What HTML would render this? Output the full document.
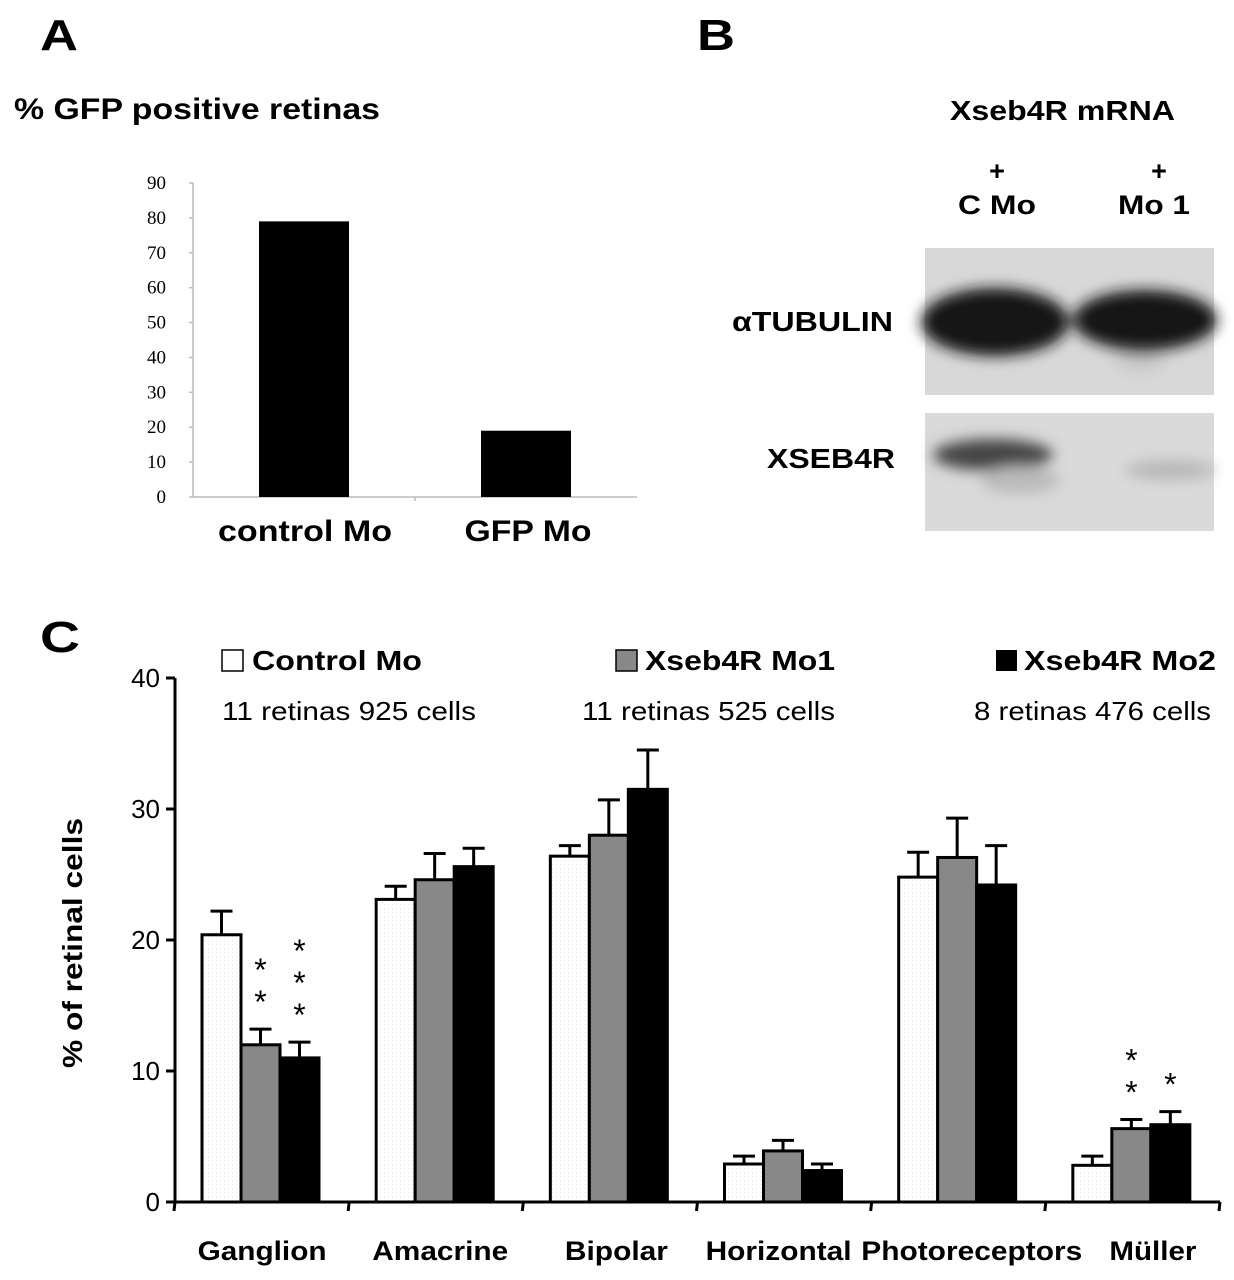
<!DOCTYPE html>
<html><head><meta charset="utf-8"><style>
html,body{margin:0;padding:0;background:#fff;}
svg{display:block;}
text{font-family:"Liberation Sans",sans-serif;}
text.serif{font-family:"Liberation Serif",serif;}
</style></head><body>
<svg id="fig" width="1234" height="1280" viewBox="0 0 1234 1280">
<defs>
<filter id="blur6" x="-20%" y="-50%" width="140%" height="200%"><feGaussianBlur stdDeviation="7"/></filter>
<filter id="blur10" x="-50%" y="-50%" width="200%" height="200%"><feGaussianBlur stdDeviation="10"/></filter>
<pattern id="dots" width="4" height="4" patternUnits="userSpaceOnUse"><rect width="4" height="4" fill="#fff"/><rect width="1" height="1" fill="#e4e4e4"/></pattern>
</defs>
<g id="panelA">
<text x="40" y="50" font-size="44" font-weight="bold" textLength="38" lengthAdjust="spacingAndGlyphs">A</text>
<text x="14" y="119" font-size="30" font-weight="bold" textLength="366" lengthAdjust="spacingAndGlyphs">% GFP positive retinas</text>
</g>
<g id="panelB">
<text x="697" y="50" font-size="44" font-weight="bold" textLength="38" lengthAdjust="spacingAndGlyphs">B</text>
<text x="950" y="120" font-size="28" font-weight="bold" textLength="225" lengthAdjust="spacingAndGlyphs">Xseb4R mRNA</text>
<text x="997" y="180" font-size="27" font-weight="bold" text-anchor="middle">+</text>
<text x="958" y="214" font-size="27" font-weight="bold" textLength="78" lengthAdjust="spacingAndGlyphs">C Mo</text>
<text x="1159" y="180" font-size="27" font-weight="bold" text-anchor="middle">+</text>
<text x="1118" y="214" font-size="27" font-weight="bold" textLength="72" lengthAdjust="spacingAndGlyphs">Mo 1</text>
<text x="732" y="331" font-size="28" font-weight="bold" textLength="161" lengthAdjust="spacingAndGlyphs">αTUBULIN</text>
<text x="767" y="468" font-size="28" font-weight="bold" textLength="128" lengthAdjust="spacingAndGlyphs">XSEB4R</text>
<g>
<rect x="925" y="248" width="289" height="147" fill="#d8d8d8"/>
<g filter="url(#blur10)"><ellipse cx="1140" cy="352" rx="25" ry="14" fill="#b8b8b8"/></g>
<g filter="url(#blur6)"><ellipse cx="995" cy="322" rx="74" ry="34" fill="#151515"/><ellipse cx="1145" cy="320" rx="72" ry="30" fill="#151515"/></g>
</g>
<g>
<rect x="925" y="413" width="289" height="118" fill="#dadada"/>
<g filter="url(#blur6)"><ellipse cx="993" cy="455" rx="60" ry="16" fill="#444"/><ellipse cx="1020" cy="480" rx="40" ry="14" fill="#bbb"/><ellipse cx="1170" cy="470" rx="45" ry="10" fill="#b8b8b8"/></g>
</g>
</g>
<g id="chartA"></g>
<g id="panelC">
<text x="40" y="652" font-size="44" font-weight="bold" textLength="40" lengthAdjust="spacingAndGlyphs">C</text>
<rect x="222" y="650" width="21" height="21" fill="#fff" stroke="#000" stroke-width="1.5"/>
<text x="252" y="670" font-size="28" font-weight="bold" textLength="170" lengthAdjust="spacingAndGlyphs">Control Mo</text>
<text x="222" y="720" font-size="26" textLength="254" lengthAdjust="spacingAndGlyphs">11 retinas 925 cells</text>
<rect x="616" y="650" width="21" height="21" fill="#888" stroke="#000" stroke-width="1.5"/>
<text x="645" y="670" font-size="28" font-weight="bold" textLength="190" lengthAdjust="spacingAndGlyphs">Xseb4R Mo1</text>
<text x="582" y="720" font-size="26" textLength="253" lengthAdjust="spacingAndGlyphs">11 retinas 525 cells</text>
<rect x="996" y="650" width="21" height="21" fill="#000"/>
<text x="1024" y="670" font-size="28" font-weight="bold" textLength="192" lengthAdjust="spacingAndGlyphs">Xseb4R Mo2</text>
<text x="974" y="720" font-size="26" textLength="237" lengthAdjust="spacingAndGlyphs">8 retinas 476 cells</text>
<text transform="translate(82,943) rotate(-90)" font-size="28" font-weight="bold" text-anchor="middle" textLength="250" lengthAdjust="spacingAndGlyphs">% of retinal cells</text>
</g>
<g id="chartC"></g>
</svg>
<script>
// Panel A data
const aCategories = ["control Mo", "GFP Mo"];
const aValues = [79, 19];
const aTicks = [0,10,20,30,40,50,60,70,80,90];
// Panel C data
const cCategories = ["Ganglion","Amacrine","Bipolar","Horizontal","Photoreceptors","Müller"];
const cControl = [20.4, 23.1, 26.4, 2.9, 24.8, 2.8];
const cControlErr = [1.8, 1.0, 0.8, 0.6, 1.9, 0.7];
const cMo1 = [12.0, 24.6, 28.0, 3.9, 26.3, 5.6];
const cMo1Err = [1.2, 2.0, 2.7, 0.8, 3.0, 0.7];
const cMo2 = [11.0, 25.6, 31.5, 2.4, 24.2, 5.9];
const cMo2Err = [1.2, 1.4, 3.0, 0.5, 3.0, 1.0];
const cStarsMo1 = [2, 0, 0, 0, 0, 2];
const cStarsMo2 = [3, 0, 0, 0, 0, 1];
const cTicks = [0,10,20,30,40];

// layout (not data)
const aLabelCenter = [305, 528];
const aLabelWidth = [174, 127];
const cLabelShift = [0, 4, 6, -6, 13, 20];
const cLabelWidth = [129, 136, 103, 146, 221, 87];

const NS = "http://www.w3.org/2000/svg";
function mk(tag, attrs, parent){const e=document.createElementNS(NS,tag);for(const k in attrs)e.setAttribute(k,attrs[k]);parent.appendChild(e);return e;}

// ---- Chart A ----
const gA = document.getElementById('chartA');
const aY0=497, aY1=183, aMax=90, aX0=193, aX1=637;
const ayS = v => aY0 - (v/aMax)*(aY0-aY1);
const aBand = (aX1-aX0)/aCategories.length;
const axA = mk('line',{x1:aX0,y1:aY1,x2:aX0,y2:aY0,stroke:'#bbb','stroke-width':1.5},gA);


const axAx = mk('line',{x1:aX0,y1:aY0,x2:aX1,y2:aY0,stroke:'#bbb','stroke-width':1.5},gA);


aTicks.forEach(t=>{
  const y=ayS(t);
  mk('line',{x1:aX0-4,y1:y,x2:aX0,y2:y,stroke:'#bbb','stroke-width':1.5},gA);
  const tx=mk('text',{x:aX0-27,y:y+6,'font-size':19,'text-anchor':'end','class':'serif'},gA);
  tx.textContent=t;
  
  
});
for(let i=1;i<aCategories.length;i++){mk('line',{x1:aX0+aBand*i,y1:aY0,x2:aX0+aBand*i,y2:aY0+4,stroke:'#bbb','stroke-width':1.5},gA);}
aCategories.forEach((c,i)=>{
  const cx=aX0+aBand*(i+0.5);
  const r=mk('rect',{x:cx-45,y:ayS(aValues[i]),width:90,height:aY0-ayS(aValues[i]),fill:'#000'},gA);
  
  
  const t=mk('text',{x:aLabelCenter[i]-aLabelWidth[i]/2,y:541,'font-size':30,'font-weight':'bold',textLength:aLabelWidth[i],lengthAdjust:'spacingAndGlyphs'},gA);
  t.textContent=c;
  
  
});

// ---- Chart C ----
const gC = document.getElementById('chartC');
const cY0=1202, cY1=678, cMax=40, cX0=175, cX1=1220;
const cyS = v => cY0 - (v/cMax)*(cY0-cY1);
const cBand=(cX1-cX0)/cCategories.length;
const bw=39, off=27;
const axC = mk('line',{x1:cX0,y1:cY1,x2:cX0,y2:cY0,stroke:'#000','stroke-width':3},gC);


const axCx = mk('line',{x1:cX0,y1:cY0,x2:cX1,y2:cY0,stroke:'#000','stroke-width':3},gC);


cTicks.forEach(t=>{
  const y=cyS(t);
  mk('line',{x1:cX0-9,y1:y,x2:cX0,y2:y,stroke:'#000','stroke-width':3},gC);
  const tx=mk('text',{x:cX0-15,y:y+9,'font-size':26,'text-anchor':'end'},gC);
  tx.textContent=t;
  
  
});
for(let i=0;i<=cCategories.length;i++){mk('line',{x1:cX0+cBand*i,y1:cY0,x2:cX0+cBand*i-1,y2:cY0+9,stroke:'#000','stroke-width':3},gC);}
const series=[[cControl,cControlErr,'url(#dots)'],[cMo1,cMo1Err,'#888'],[cMo2,cMo2Err,'#000']];
cCategories.forEach((c,i)=>{
  const gx=cX0+cBand*i+off;
  series.forEach((s,j)=>{
    const v=s[0][i], e=s[1][i], x=gx+bw*j, yt=cyS(v), ye=cyS(v+e);
    const el=mk('line',{x1:x+bw/2,y1:yt,x2:x+bw/2,y2:ye,stroke:'#000','stroke-width':3},gC);
    
    
    mk('line',{x1:x+bw/2-11,y1:ye,x2:x+bw/2+11,y2:ye,stroke:'#000','stroke-width':3},gC);
    const r=mk('rect',{x:x,y:yt,width:bw,height:cY0-yt,fill:s[2],stroke:'#000','stroke-width':3},gC);
    
    
  });
  [[cStarsMo1,cMo1,cMo1Err,1],[cStarsMo2,cMo2,cMo2Err,2]].forEach(st=>{
    const n=st[0][i]; const x=gx+bw*st[3]+bw/2;
    const ybase=cyS(st[1][i]+st[2][i])-38;
    for(let k=0;k<n;k++){
      const s=mk('text',{x:x,y:ybase-k*32+22,'font-size':32,'text-anchor':'middle'},gC);
      s.textContent='*';
      
      
    }
  });
  const lx = cX0+cBand*(i+0.5)+cLabelShift[i];
  const t=mk('text',{x:lx-cLabelWidth[i]/2,y:1260,'font-size':27,'font-weight':'bold',textLength:cLabelWidth[i],lengthAdjust:'spacingAndGlyphs'},gC);
  t.textContent=c;
  
  
});
</script>
</body></html>
